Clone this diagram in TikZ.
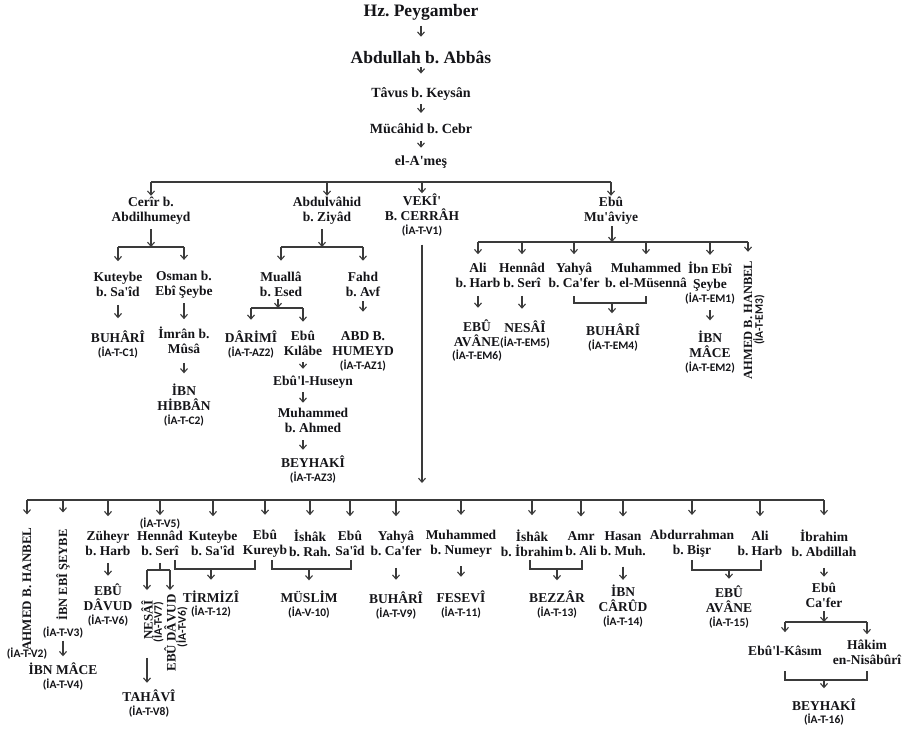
\documentclass[tikz,border=0pt]{standalone}
\usepackage{fontspec}
\setmainfont{Liberation Serif}
\newfontfamily\codefont{Carlito}
\usetikzlibrary{arrows.meta}
\definecolor{ink}{HTML}{141418}
\definecolor{lnc}{HTML}{3A3A3A}
\newcommand{\cd}[1]{{\codefont\fontsize{11.5}{13}\selectfont #1}}
\newcommand{\ap}{\textquotesingle}
\frenchspacing
\tikzset{
 nm/.style={font=\bfseries\fontsize{13.5}{15}\selectfont, align=center, inner sep=0pt, outer sep=0pt, text=ink},
 chainnm/.style={nm, font=\bfseries\fontsize{14}{16}\selectfont},
 bignm/.style={nm, font=\bfseries\fontsize{17.5}{20}\selectfont},
 cdnode/.style={nm, font=\codefont\bfseries\fontsize{11.5}{13}\selectfont},
 vert/.style={nm, rotate=90, font=\bfseries\fontsize{13}{15}\selectfont},
 vcd/.style={cdnode, rotate=90},
 wire/.style={draw=lnc, line width=1.1pt},
 barr/.style={wire, -{Straight Barb[length=4pt,width=7pt]}},
 arr/.style={barr, shorten <=7pt, shorten >=11pt},
}
\begin{document}
\begin{tikzpicture}[x=1pt,y=-1pt]
\fill[white] (0,0) rectangle (905,730);
\useasboundingbox (0,0) rectangle (905,730);
% ---- top chain
\node[bignm] (hz) at (421,12) {Hz. Peygamber};
\node[bignm] (abb) at (421,57) {Abdullah b. Abbâs};
\node[chainnm] (tav) at (421,94) {Tâvus b. Keysân};
\node[chainnm] (muc) at (421,129) {Mücâhid b. Cebr};
\node[chainnm] (ame) at (421,162) {el-A\ap meş};
\draw[arr, shorten <=6pt, shorten >=14pt] (hz) -- (abb);
\draw[arr, shorten <=4pt, shorten >=14pt] (abb) -- (tav);
\draw[arr, shorten <=4pt, shorten >=11pt] (tav) -- (muc);
\draw[arr, shorten <=7pt, shorten >=8pt] (muc) -- (ame);
% ---- level 2
\coordinate (b0) at (0,182);
\node[nm] (cer) at (151,210.5) {Cerîr b.\\Abdilhumeyd};
\node[nm] (abv) at (327,210.5) {Abdulvâhid\\b. Ziyâd};
\node[nm] (vek) at (422,215.5) {VEKÎ\ap\\B. CERRÂH\\[-1pt]\cd{(İA-T-V1)}};
\node[nm] (ebm) at (611,210.5) {Ebû\\Mu\ap âviye};
\draw[wire] (cer |- b0) -- (ebm |- b0);
\foreach \n in {cer,abv,vek,ebm} \draw[barr, shorten >=1pt] (\n |- b0) -- (\n);
% ---- Cerir branch
\coordinate (j1) at (151,247);
\node[nm] (kut1) at (118,284.5) {Kuteybe\\b. Sa\ap îd};
\node[nm] (osm) at (184,284.5) {Osman b.\\Ebî Şeybe};
\node[nm] (buh1) at (118,345) {BUHÂRÎ\\[-1pt]\cd{(İA-T-C1)}};
\node[nm] (imr) at (184,340.5) {İmrân b.\\Mûsâ};
\node[nm] (ibh) at (184,405.5) {İBN\\HİBBÂN\\[-1pt]\cd{(İA-T-C2)}};
\draw[barr, shorten <=5pt] (cer.south -| j1) -- (j1);
\draw[wire] (kut1 |- j1) -- (osm |- j1);
\draw[barr, shorten >=11pt] (kut1 |- j1) -- (kut1);
\draw[barr, shorten >=11pt] (osm |- j1) -- (osm);
\draw[arr, shorten <=8pt, shorten >=13pt] (kut1) -- (buh1);
\draw[arr, shorten <=5pt, shorten >=8pt] (osm) -- (imr);
\draw[arr, shorten <=9pt, shorten >=11pt] (imr) -- (ibh);
% ---- Abdulvahid branch
\coordinate (j2) at (322,247);
\coordinate (j3) at (278,308);
\node[nm] (mua) at (281,284) {Muallâ\\b. Esed};
\node[nm] (fah) at (363,284) {Fahd\\b. Avf};
\node[nm] (dar) at (251,344.5) {DÂRİMÎ\\[-1pt]\cd{(İA-T-AZ2)}};
\node[nm] (ebk) at (303,343) {Ebû\\Kılâbe};
\node[nm] (ebh) at (313,382) {Ebû\ap l-Huseyn};
\node[nm] (mahm) at (313,420) {Muhammed\\b. Ahmed};
\node[nm] (bey1) at (313,469.5) {BEYHAKÎ\\[-1pt]\cd{(İA-T-AZ3)}};
\node[nm] (abdh) at (363,351.5) {ABD B.\\HUMEYD\\[-1pt]\cd{(İA-T-AZ1)}};
\draw[barr, shorten <=5pt] (abv.south -| j2) -- (j2);
\draw[wire] (mua |- j2) -- (fah |- j2);
\draw[barr, shorten >=11pt] (mua |- j2) -- (mua);
\draw[barr, shorten >=11pt] (fah |- j2) -- (fah);
\draw[barr, shorten <=3pt] (mua.south -| j3) -- (j3);
\draw[wire] (dar |- j3) -- (ebk |- j3);
\draw[barr, shorten >=11pt] (dar |- j3) -- (dar);
\draw[barr, shorten >=9pt] (ebk |- j3) -- (ebk);
\draw[arr, shorten <=7pt, shorten >=7pt] (ebk) -- (ebk |- ebh.north);
\draw[arr, shorten <=4pt, shorten >=5pt] (ebh.south -| ebk) -- (ebk |- mahm.north);
\draw[arr, shorten <=8pt, shorten >=6pt] (mahm.south -| ebk) -- (ebk |- bey1.north);
\draw[arr, shorten <=5pt, shorten >=20pt] (fah) -- (abdh);
% ---- Ebu Mu'aviye branch
\coordinate (j4) at (612,242);
\node[nm] (ali1) at (478,275.5) {Ali\\b. Harb};
\node[nm] (hen1) at (522,275.5) {Hennâd\\b. Serî};
\node[nm] (yah1) at (574,275.5) {Yahyâ\\b. Ca\ap fer};
\node[nm] (muh1) at (646,275.5) {Muhammed\\b. el-Müsennâ};
\node[nm] (ibe1) at (710,283) {İbn Ebî\\Şeybe\\[-1pt]\cd{(İA-T-EM1)}};
\node[vert, font=\bfseries\fontsize{12.5}{15}\selectfont] (ahm1) at (748,320) {AHMED B. HANBEL};
\node[vcd] (ahm1c) at (759,320) {(İA-T-EM3)};
\node[nm] (ebav1) at (477,340.5) {EBÛ\\AVÂNE\\[-2pt]\cd{(İA-T-EM6)}};
\node[nm] (nes1) at (525,334.5) {NESÂÎ\\[-1pt]\cd{(İA-T-EM5)}};
\node[nm] (buh2) at (613,338) {BUHÂRÎ\\[-1pt]\cd{(İA-T-EM4)}};
\node[nm] (ibm1) at (710,352.5) {İBN\\MÂCE\\[-1pt]\cd{(İA-T-EM2)}};
\draw[barr, shorten <=2pt] (ebm.south -| j4) -- (j4);
\draw[wire] (ali1 |- j4) -- (ahm1 |- j4);
\foreach \n in {ali1,hen1,yah1,muh1} \draw[barr, shorten >=9pt] (\n |- j4) -- (\n);
\draw[barr, shorten >=7pt] (ibe1 |- j4) -- (ibe1);
\draw[barr, shorten >=9pt] (ahm1 |- j4) -- (ahm1);
\draw[arr, shorten <=8pt, shorten >=12pt] (ali1) -- (ali1 |- ebav1.north);
\draw[arr, shorten <=8pt, shorten >=12pt] (hen1) -- (hen1 |- nes1.north);
\coordinate (k4) at (612,303);
\coordinate (k4t) at (0,296);
\draw[wire] (yah1 |- k4t) -- (yah1 |- k4) -- (muh1 |- k4) -- (muh1 |- k4t);
\draw[barr, shorten >=11pt] (k4) -- (k4 |- buh2.north);
\draw[arr, shorten <=6pt, shorten >=11pt] (ibe1) -- (ibm1);
% ---- Veki' long line
\coordinate (b5) at (0,500);
\draw[barr, shorten <=8pt, shorten >=17pt] (vek) -- (vek |- b5);
% ---- bottom level
\node[vert] (ahm2) at (27,589) {AHMED B. HANBEL};
\node[cdnode] (ahm2c) at (27,654) {(İA-T-V2)};
\node[vert, font=\bfseries\fontsize{12.5}{15}\selectfont] (ibe2) at (63,575) {İBN EBÎ ŞEYBE};
\node[cdnode] (ibe2c) at (63,633) {(İA-T-V3)};
\node[nm] (ibm2) at (63,677) {İBN MÂCE\\[-1pt]\cd{(İA-T-V4)}};
\node[nm] (zuh) at (108,543.5) {Züheyr\\b. Harb};
\node[nm] (ebd2) at (108,605) {EBÛ\\DÂVUD\\[-1pt]\cd{(İA-T-V6)}};
\node[nm] (hen2) at (160,537) {\cd{(İA-T-V5)}\\[-2pt]Hennâd\\b. Serî};
\node[vert] (nes2) at (147,620) {NESÂÎ};
\node[vcd] (nes2c) at (158,622) {(İA-T-V7)};
\node[vert] (ebd3) at (170,633) {EBÛ DÂVUD};
\node[vcd] (ebd3c) at (182,627) {(İA-T-V6)};
\node[nm] (tah) at (149,703.5) {TAHÂVÎ\\[-1pt]\cd{(İA-T-V8)}};
\node[nm] (kut2) at (213,543.5) {Kuteybe\\b. Sa\ap îd};
\node[nm] (ebk2) at (265,543.5) {Ebû\\Kureyb};
\node[nm] (tir) at (211,604) {TİRMİZÎ\\[-2pt]\cd{(İA-T-12)}};
\node[nm] (ish2) at (310,543.5) {İshâk\\b. Rah.};
\node[nm] (ebs2) at (350,543.5) {Ebû\\Sa\ap îd};
\node[nm] (mus) at (309,605) {MÜSLİM\\[-1pt]\cd{(İA-V-10)}};
\node[nm] (yah2) at (396,543.5) {Yahyâ\\b. Ca\ap fer};
\node[nm] (buh3) at (396,605.5) {BUHÂRÎ\\[-1pt]\cd{(İA-T-V9)}};
\node[nm] (muh2) at (461,543.5) {Muhammed\\b. Numeyr};
\node[nm] (fes) at (461,604.5) {FESEVÎ\\[-1pt]\cd{(İA-T-11)}};
\node[nm] (ish3) at (532,543.5) {İshâk\\b. İbrahim};
\node[nm] (amr) at (581,543.5) {Amr\\b. Ali};
\node[nm] (bez) at (557,605) {BEZZÂR\\[-1pt]\cd{(İA-T-13)}};
\node[nm] (has) at (623,543.5) {Hasan\\b. Muh.};
\node[nm] (ibc) at (623,606) {İBN\\CÂRÛD\\[-1pt]\cd{(İA-T-14)}};
\node[nm] (abr) at (692,543.5) {Abdurrahman\\b. Bişr};
\node[nm] (ali2) at (760,543.5) {Ali\\b. Harb};
\node[nm] (ebav2) at (729,607) {EBÛ\\AVÂNE\\[-1pt]\cd{(İA-T-15)}};
\node[nm] (ibr) at (824,543.5) {İbrahim\\b. Abdillah};
\node[nm] (ebc) at (824,595) {Ebû\\Ca\ap fer};
\node[nm] (ebk3) at (785,651) {Ebû\ap l-Kâsım};
\node[nm] (hak) at (867,652.5) {Hâkim\\en-Nisâbûrî};
\node[nm] (bey2) at (824,712.5) {BEYHAKÎ\\[-2pt]\cd{(İA-T-16)}};
% bottom bar
\draw[wire] (ahm2 |- b5) -- (ibr |- b5);
\draw[barr, shorten >=13pt] (ahm2 |- b5) -- (ahm2);
\draw[barr, shorten >=17pt] (ibe2 |- b5) -- (ibe2);
\foreach \n in {zuh,kut2,ebk2,ish2,ebs2,yah2,muh2,ish3,amr,has,abr,ali2,ibr}
  \draw[barr, shorten >=15pt] (\n |- b5) -- (\n);
\draw[barr, shorten >=3pt] (hen2 |- b5) -- (hen2);
% vertical arrows bottom
\draw[arr, shorten <=2pt, shorten >=7pt] (ibe2c) -- (ibe2c |- ibm2.north);
\draw[arr, shorten <=7pt, shorten >=8pt] (zuh) -- (zuh |- ebd2.north);
\draw[arr, shorten <=12pt, shorten >=12pt] (yah2) -- (yah2 |- buh3.north);
\draw[arr, shorten <=9pt, shorten >=14pt] (muh2) -- (muh2 |- fes.north);
\draw[arr, shorten <=11pt, shorten >=5pt] (has) -- (has |- ibc.north);
% Hennad split
\coordinate (h2j) at (160,570);
\draw[wire, shorten <=7pt] (hen2.south) -- (h2j);
\draw[wire] (nes2 |- h2j) -- (ebd3 |- h2j);
\draw[barr] (nes2 |- h2j) -- (nes2 |- 0,590);
\draw[barr] (ebd3 |- h2j) -- (ebd3 |- 0,590);
\draw[arr, shorten <=18pt, shorten >=7pt] (nes2) -- (nes2 |- tah.north);
% brackets
\coordinate (kt) at (0,560);
\coordinate (kl) at (175,569);
\coordinate (kr) at (255,569);
\draw[wire] (kl |- kt) -- (kl) -- (kr) -- (kr |- kt);
\draw[barr, shorten >=11pt] (tir |- kl) -- (tir);
\coordinate (ml) at (272,569);
\coordinate (mr) at (351,569);
\draw[wire] (ml |- kt) -- (ml) -- (mr) -- (mr |- kt);
\draw[barr, shorten >=11pt] (mus |- ml) -- (mus);
\coordinate (zl) at (530,569);
\coordinate (zr) at (582,569);
\draw[wire] (zl |- kt) -- (zl) -- (zr) -- (zr |- kt);
\draw[barr, shorten >=11pt] (bez |- zl) -- (bez);
\coordinate (al) at (692,570);
\coordinate (ar) at (761,570);
\draw[wire] (al |- kt) -- (al) -- (ar) -- (ar |- kt);
\draw[barr, shorten >=7pt] (ebav2 |- al) -- (ebav2);
% Ibrahim branch
\coordinate (j6) at (824,622);
\draw[arr, shorten <=11pt, shorten >=6pt] (ibr) -- (ibr |- ebc.north);
\draw[barr, shorten <=4pt] (ebc) -- (j6);
\draw[wire] (ebk3 |- j6) -- (hak |- j6);
\draw[barr, shorten >=14pt] (ebk3 |- j6) -- (ebk3);
\draw[barr, shorten >=6pt] (hak |- j6) -- (hak);
\coordinate (ht) at (0,671);
\coordinate (hb) at (824,680);
\draw[wire] (ebk3 |- ht) -- (ebk3 |- hb) -- (hak |- hb) -- (hak |- ht);
\draw[barr, shorten >=11pt] (hb) -- (bey2);
\end{tikzpicture}
\end{document}
